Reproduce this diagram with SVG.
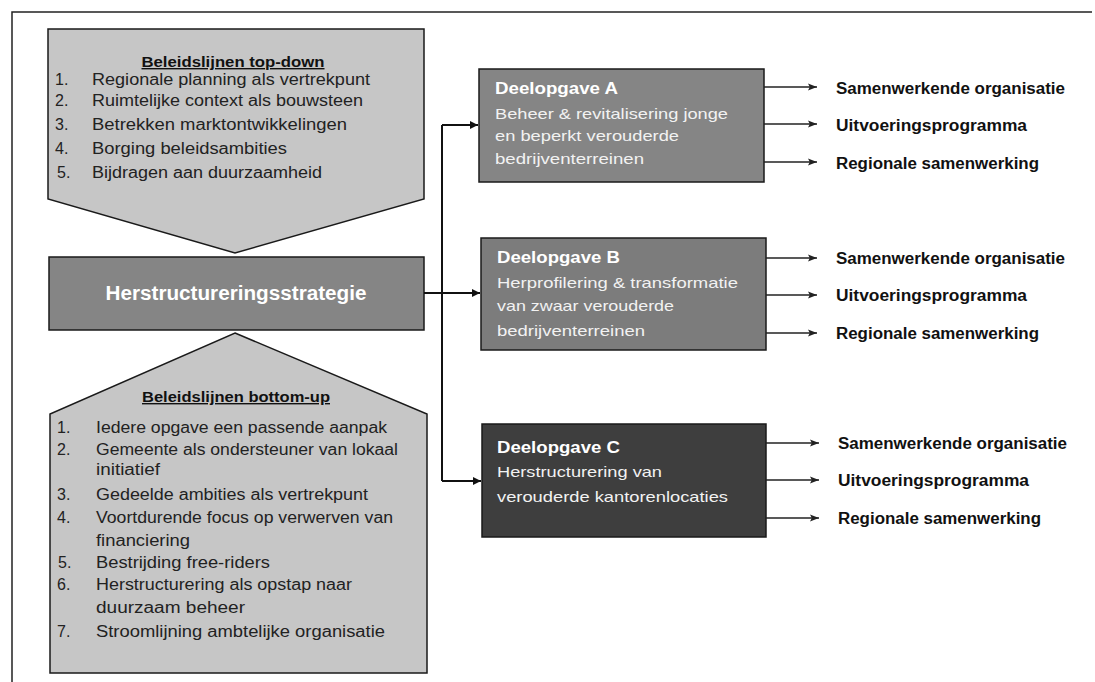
<svg xmlns="http://www.w3.org/2000/svg" width="1095" height="682" viewBox="0 0 1095 682">
<style>
.frame{stroke:#222;stroke-width:1.5;fill:none}
.light{fill:#c6c6c6;stroke:#1a1a1a;stroke-width:1.5}
.mid{fill:#858585;stroke:#1a1a1a;stroke-width:1.5}
.midb{fill:#7c7c7c;stroke:#1a1a1a;stroke-width:1.5}
.dark{fill:#3e3e3e;stroke:#1a1a1a;stroke-width:1.5}
.ttl{font-family:"Liberation Sans",Arial,sans-serif;font-weight:bold;font-size:14px;fill:#111;text-decoration:underline}
.num{font-family:"Liberation Sans",Arial,sans-serif;font-size:16px;fill:#222}
.li{font-family:"Liberation Sans",Arial,sans-serif;font-size:16px;fill:#222}
.main{font-family:"Liberation Sans",Arial,sans-serif;font-weight:bold;font-size:20px;fill:#fff}
.bt{font-family:"Liberation Sans",Arial,sans-serif;font-weight:bold;font-size:17px;fill:#fff}
.bl{font-family:"Liberation Sans",Arial,sans-serif;font-size:15px;fill:#f2f2f2}
.rt{font-family:"Liberation Sans",Arial,sans-serif;font-weight:bold;font-size:16px;fill:#111}
.ln{stroke:#111;stroke-width:2;fill:none}
.thin{stroke:#222;stroke-width:1.5;fill:none}
</style>
<defs>
<marker id="ah" viewBox="0 0 10 10" refX="10" refY="5" markerWidth="8" markerHeight="8" markerUnits="userSpaceOnUse" orient="auto">
<path d="M0,0 L10,5 L0,10 Z" fill="#111"/>
</marker>
<marker id="ahs" viewBox="0 0 10 10" refX="10" refY="5" markerWidth="9" markerHeight="9" markerUnits="userSpaceOnUse" orient="auto">
<path d="M0,1 L10,5 L0,9 L2,5 Z" fill="#222"/>
</marker>
</defs>
<rect width="1095" height="682" fill="#fff"/>
<path class="frame" d="M12,682 L12,12 L1092,12"/>

<g id="topdown">
<polygon class="light" points="48,29 424,29 424,199 235,253 48,199"/>
<text class="ttl" x="233" y="67" text-anchor="middle" textLength="183" lengthAdjust="spacingAndGlyphs">Beleidslijnen top-down</text>
<text class="num" x="55" y="85">1.</text><text class="li" x="92" y="85" textLength="278" lengthAdjust="spacingAndGlyphs">Regionale planning als vertrekpunt</text>
<text class="num" x="55" y="106">2.</text><text class="li" x="92" y="106" textLength="271" lengthAdjust="spacingAndGlyphs">Ruimtelijke context als bouwsteen</text>
<text class="num" x="55" y="130">3.</text><text class="li" x="92" y="130" textLength="255" lengthAdjust="spacingAndGlyphs">Betrekken marktontwikkelingen</text>
<text class="num" x="55" y="154">4.</text><text class="li" x="92" y="154" textLength="195" lengthAdjust="spacingAndGlyphs">Borging beleidsambities</text>
<text class="num" x="57" y="178">5.</text><text class="li" x="92" y="178" textLength="230" lengthAdjust="spacingAndGlyphs">Bijdragen aan duurzaamheid</text>
</g>

<g id="strategie">
<rect class="mid" x="49" y="257" width="375" height="73"/>
<text class="main" x="236" y="300" text-anchor="middle" textLength="261" lengthAdjust="spacingAndGlyphs">Herstructureringsstrategie</text>
</g>

<g id="bottomup">
<polygon class="light" points="235,333 427,414 427,673 50,673 50,414"/>
<text class="ttl" x="236" y="402" text-anchor="middle" textLength="188" lengthAdjust="spacingAndGlyphs">Beleidslijnen bottom-up</text>
<text class="num" x="57" y="433">1.</text><text class="li" x="96" y="433" textLength="291" lengthAdjust="spacingAndGlyphs">Iedere opgave een passende aanpak</text>
<text class="num" x="57" y="455">2.</text><text class="li" x="96" y="455" textLength="302" lengthAdjust="spacingAndGlyphs">Gemeente als ondersteuner van lokaal</text>
<text class="li" x="96" y="475" textLength="64" lengthAdjust="spacingAndGlyphs">initiatief</text>
<text class="num" x="57" y="500">3.</text><text class="li" x="96" y="500" textLength="272" lengthAdjust="spacingAndGlyphs">Gedeelde ambities als vertrekpunt</text>
<text class="num" x="57" y="523">4.</text><text class="li" x="96" y="523" textLength="297" lengthAdjust="spacingAndGlyphs">Voortdurende focus op verwerven van</text>
<text class="li" x="96" y="546" textLength="94" lengthAdjust="spacingAndGlyphs">financiering</text>
<text class="num" x="58" y="568">5.</text><text class="li" x="96" y="568" textLength="174" lengthAdjust="spacingAndGlyphs">Bestrijding free-riders</text>
<text class="num" x="57" y="590">6.</text><text class="li" x="96" y="590" textLength="256" lengthAdjust="spacingAndGlyphs">Herstructurering als opstap naar</text>
<text class="li" x="96" y="613" textLength="149" lengthAdjust="spacingAndGlyphs">duurzaam beheer</text>
<text class="num" x="57" y="637">7.</text><text class="li" x="96" y="637" textLength="289" lengthAdjust="spacingAndGlyphs">Stroomlijning ambtelijke organisatie</text>
</g>

<g id="deelA">
<rect class="mid" x="479" y="69" width="285" height="113"/>
<text class="bt" x="495" y="94" textLength="123" lengthAdjust="spacingAndGlyphs">Deelopgave A</text>
<text class="bl" x="495" y="119" textLength="233" lengthAdjust="spacingAndGlyphs">Beheer &amp; revitalisering jonge</text>
<text class="bl" x="495" y="141" textLength="184" lengthAdjust="spacingAndGlyphs">en beperkt verouderde</text>
<text class="bl" x="495" y="164" textLength="149" lengthAdjust="spacingAndGlyphs">bedrijventerreinen</text>
</g>

<g id="deelB">
<rect class="midb" x="481" y="238" width="285" height="112"/>
<text class="bt" x="497" y="263" textLength="123" lengthAdjust="spacingAndGlyphs">Deelopgave B</text>
<text class="bl" x="497" y="288" textLength="241" lengthAdjust="spacingAndGlyphs">Herprofilering &amp; transformatie</text>
<text class="bl" x="497" y="311" textLength="177" lengthAdjust="spacingAndGlyphs">van zwaar verouderde</text>
<text class="bl" x="497" y="336" textLength="148" lengthAdjust="spacingAndGlyphs">bedrijventerreinen</text>
</g>

<g id="deelC">
<rect class="dark" x="482" y="424" width="284" height="113"/>
<text class="bt" x="497" y="453" textLength="123" lengthAdjust="spacingAndGlyphs">Deelopgave C</text>
<text class="bl" x="497" y="477" textLength="165" lengthAdjust="spacingAndGlyphs">Herstructurering van</text>
<text class="bl" x="497" y="502" textLength="231" lengthAdjust="spacingAndGlyphs">verouderde kantorenlocaties</text>
</g>

<g id="outputs">
<text class="rt" x="836" y="94" textLength="229" lengthAdjust="spacingAndGlyphs">Samenwerkende organisatie</text>
<text class="rt" x="836" y="131" textLength="191" lengthAdjust="spacingAndGlyphs">Uitvoeringsprogramma</text>
<text class="rt" x="836" y="169" textLength="203" lengthAdjust="spacingAndGlyphs">Regionale samenwerking</text>
<text class="rt" x="836" y="264" textLength="229" lengthAdjust="spacingAndGlyphs">Samenwerkende organisatie</text>
<text class="rt" x="836" y="301" textLength="191" lengthAdjust="spacingAndGlyphs">Uitvoeringsprogramma</text>
<text class="rt" x="836" y="339" textLength="203" lengthAdjust="spacingAndGlyphs">Regionale samenwerking</text>
<text class="rt" x="838" y="449" textLength="229" lengthAdjust="spacingAndGlyphs">Samenwerkende organisatie</text>
<text class="rt" x="838" y="486" textLength="191" lengthAdjust="spacingAndGlyphs">Uitvoeringsprogramma</text>
<text class="rt" x="838" y="524" textLength="203" lengthAdjust="spacingAndGlyphs">Regionale samenwerking</text>
</g>

<g id="connectors">
<path class="ln" d="M442,481 L442,125"/>
<path class="ln" d="M442,125 L478,125" marker-end="url(#ah)"/>
<path class="ln" d="M424,293 L480,293" marker-end="url(#ah)"/>
<path class="ln" d="M442,481 L481,481" marker-end="url(#ah)"/>
<path class="thin" d="M764,87 L817,87" marker-end="url(#ahs)"/>
<path class="thin" d="M764,124 L817,124" marker-end="url(#ahs)"/>
<path class="thin" d="M764,162 L817,162" marker-end="url(#ahs)"/>
<path class="thin" d="M766,258 L817,258" marker-end="url(#ahs)"/>
<path class="thin" d="M766,295 L817,295" marker-end="url(#ahs)"/>
<path class="thin" d="M766,333 L817,333" marker-end="url(#ahs)"/>
<path class="thin" d="M766,443 L819,443" marker-end="url(#ahs)"/>
<path class="thin" d="M766,480 L819,480" marker-end="url(#ahs)"/>
<path class="thin" d="M766,518 L819,518" marker-end="url(#ahs)"/>
</g>
</svg>
